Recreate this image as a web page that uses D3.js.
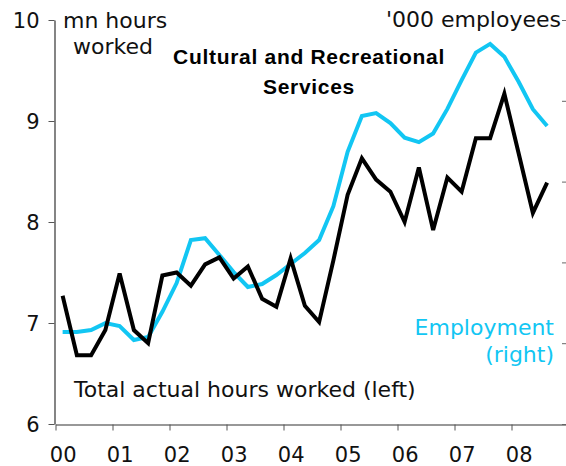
<!DOCTYPE html>
<html>
<head>
<meta charset="utf-8">
<script src="https://cdn.jsdelivr.net/npm/d3@7"></script>
<style>
  html, body { margin: 0; padding: 0; background: #fff; }
  svg { display: block; font-family: "DejaVu Sans", Verdana, sans-serif; }
</style>
</head>
<body>
<svg id="chart" width="566" height="466"></svg>
<script>
// Quarterly observations, 2000Q1 to 2008Q3
const quarters = [
  "2000Q1","2000Q2","2000Q3","2000Q4",
  "2001Q1","2001Q2","2001Q3","2001Q4",
  "2002Q1","2002Q2","2002Q3","2002Q4",
  "2003Q1","2003Q2","2003Q3","2003Q4",
  "2004Q1","2004Q2","2004Q3","2004Q4",
  "2005Q1","2005Q2","2005Q3","2005Q4",
  "2006Q1","2006Q2","2006Q3","2006Q4",
  "2007Q1","2007Q2","2007Q3","2007Q4",
  "2008Q1","2008Q2","2008Q3"
];

// Total actual hours worked, mn hours (left axis)
const hoursWorked = [
  7.27, 6.68, 6.68, 6.93,
  7.49, 6.93, 6.80, 7.47,
  7.50, 7.37, 7.58, 7.65,
  7.44, 7.56, 7.24, 7.16,
  7.64, 7.17, 7.01, 7.62,
  8.27, 8.63, 8.42, 8.30,
  8.00, 8.54, 7.92, 8.44,
  8.30, 8.83, 8.83, 9.27,
  8.68, 8.09, 8.39
];

// Employment, '000 employees (right axis)
const employment = [
  178.5, 178.5, 179.1, 181.2,
  180.3, 176.0, 176.9, 184.7,
  193.6, 206.9, 207.5, 202.3,
  197.0, 192.4, 193.3, 196.1,
  199.5, 202.9, 206.9, 217.4,
  234.2, 245.3, 246.2, 243.1,
  238.6, 237.2, 239.9, 247.5,
  256.4, 264.9, 267.6, 263.6,
  255.9, 247.4, 242.2
];

const yearTicks  = [2000, 2001, 2002, 2003, 2004, 2005, 2006, 2007, 2008];
const yearLabels = ["00", "01", "02", "03", "04", "05", "06", "07", "08"];
const leftTicks  = [6, 7, 8, 9, 10];
const rightTicks = [150, 175, 200, 225, 250, 275];

const CYAN = "#12c6f3";
const FONT = "DejaVu Sans, Verdana, sans-serif";
const svg = d3.select("#chart");

// quarter "YYYYQn" -> mid-quarter position in decimal years
const qTime = q => +q.slice(0, 4) + (+q.slice(5) - 0.5) / 4;

const x = d3.scaleLinear().domain([2000, 2009]).range([55.5, 568.5]);
const yL = d3.scaleLinear().domain([6, 10]).range([424, 20]);
const yR = d3.scaleLinear().domain([150, 275]).range([424, 20]);

// Left axis
const gL = svg.append("g").attr("transform", "translate(54.5,0)")
  .call(d3.axisLeft(yL).tickValues(leftTicks).tickFormat(d3.format("d"))
    .tickSize(6).tickSizeOuter(0).tickPadding(9));
gL.select(".domain").attr("stroke", "#333").attr("stroke-width", 1.2);
gL.selectAll(".tick line").attr("stroke", "#555");
gL.selectAll(".tick text")
  .attr("font-family", FONT)
  .attr("font-size", 21).attr("fill", "#111").attr("dy", "0.36em");

// Bottom axis: ticks at year boundaries, labels under the first quarter
const gB = svg.append("g").attr("transform", "translate(0,424.5)")
  .call(d3.axisBottom(x).tickValues(yearTicks).tickSize(6).tickSizeOuter(0)
    .tickFormat((d, i) => yearLabels[i]));
gB.select(".domain").attr("stroke", "#333").attr("stroke-width", 1.2);
gB.selectAll(".tick line").attr("stroke", "#555");
gB.selectAll(".tick text")
  .attr("font-family", FONT)
  .attr("font-size", 21).attr("fill", "#111")
  .attr("x", x(2000.125) - x(2000))
  .attr("y", 37).attr("dy", 0);

// Right axis: unlabelled tick marks on the right edge
const gR = svg.append("g").attr("transform", "translate(566,0)")
  .call(d3.axisLeft(yR).tickValues(rightTicks).tickSize(4).tickSizeOuter(0).tickFormat(""));
gR.select(".domain").remove();
gR.selectAll(".tick line").attr("stroke", "#666");

// Series lines
const line = (scale, values) => d3.line()
  .x((d, i) => x(qTime(quarters[i])))
  .y(d => scale(d))(values);

svg.append("path")
  .attr("d", line(yR, employment))
  .attr("fill", "none").attr("stroke", CYAN).attr("stroke-width", 4)
  .attr("stroke-linejoin", "miter");

svg.append("path")
  .attr("d", line(yL, hoursWorked))
  .attr("fill", "none").attr("stroke", "#000").attr("stroke-width", 4)
  .attr("stroke-linejoin", "miter");

// Text annotations
const txt = (s, xp, yp, opts = {}) => svg.append("text")
  .attr("x", xp).attr("y", yp)
  .attr("font-family", opts.family || FONT)
  .attr("font-size", opts.size || 22)
  .attr("font-weight", opts.weight || "normal")
  .attr("letter-spacing", opts.spacing || 0)
  .attr("text-anchor", opts.anchor || "start")
  .attr("fill", opts.fill || "#111")
  .text(s);

txt("mn hours", 63, 28);
txt("worked", 113, 54, { anchor: "middle" });
txt("'000 employees", 561, 27, { anchor: "end" });

const titleFont = "Liberation Sans, Arial, sans-serif";
txt("Cultural and Recreational", 309, 64, { anchor: "middle", family: titleFont, size: 21, weight: "bold", spacing: 0.7, fill: "#000" });
txt("Services", 309, 94, { anchor: "middle", family: titleFont, size: 21, weight: "bold", spacing: 0.7, fill: "#000" });

txt("Employment", 554, 335, { anchor: "end", fill: CYAN });
txt("(right)", 554, 362, { anchor: "end", fill: CYAN });
txt("Total actual hours worked (left)", 74, 397);
</script>
</body>
</html>
